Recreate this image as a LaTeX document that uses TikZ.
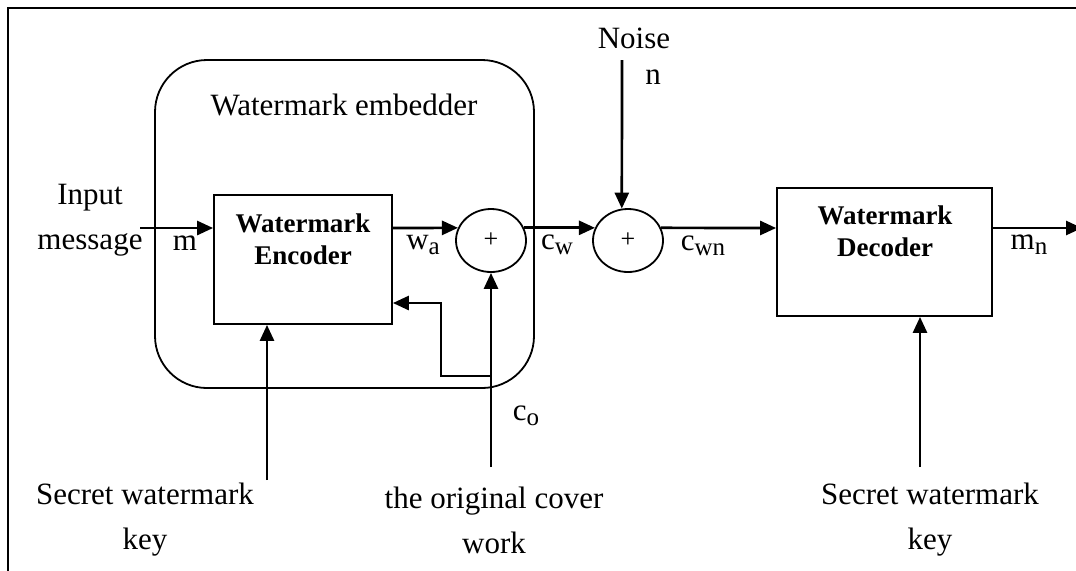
\documentclass[tikz,border=0pt]{standalone}
\usepackage{fontspec}
\setmainfont{Liberation Serif}
\usetikzlibrary{arrows.meta,shapes.geometric}
\newcommand{\lowidx}[1]{\raisebox{-0.35ex}{\fontsize{12.5}{13}\selectfont #1}}
\tikzstyle{blk}=[rectangle,draw=black,line width=0.9pt,inner sep=0pt]
\tikzstyle{adder}=[ellipse,draw=black,line width=0.9pt,inner sep=0pt,minimum width=35pt,minimum height=31.5pt,font=\fontsize{13}{13}\selectfont]
\tikzstyle{lbl}=[inner sep=0pt,align=center,font=\fontsize{15.5}{22.5}\selectfont]
\tikzstyle{btxt}=[inner sep=0pt,align=center,font=\fontsize{13.5}{16}\selectfont\bfseries]
\tikzstyle{sig}=[-{Triangle[length=8pt,width=7pt]},line width=1.35pt]

\begin{document}
\begin{tikzpicture}[x=0.5pt,y=-0.5pt]
\useasboundingbox (0,0) rectangle (1076,570);
\clip (0,0) rectangle (1076,570);
\draw[line width=1pt] (8,580) -- (8,8) -- (1090,8);
\node[blk,rounded corners=26pt,minimum width=189.5pt,minimum height=164pt] (emb) at (344.5,224) {};
\node[lbl] (embt) at (344,105) {Watermark embedder};
\node[blk,minimum width=89pt,minimum height=64.5pt] (enc) at (303,259.5) {};
\node[btxt] (enct) at (303,239) {Watermark\\Encoder};
\node[blk,minimum width=107.5pt,minimum height=64pt] (dec) at (884.5,252) {};
\node[btxt] (dect) at (885,231) {Watermark\\Decoder};
\node[adder] (add1) at (491,240.5) {+};
\node[adder] (add2) at (628,240.5) {+};
\coordinate (in) at (140,228);
\coordinate (out) at (1082,228);
\coordinate (nz) at (622,60);
\coordinate (k1) at (267,480);
\coordinate (k2) at (920,467);
\coordinate (co) at (491,467);
\coordinate (fbc) at (491,376);
\coordinate (fb) at (441,303);
\node[lbl] (inp) at (90,220) {Input\\message};
\node[lbl] (m) at (185,243) {m};
\node[lbl] (wa) at (423,245) {w\lowidx{a}};
\node[lbl] (cw) at (557,245) {c\lowidx{w}};
\node[lbl] (noise) at (634,38) {Noise};
\node[lbl] (n) at (653,77) {n};
\node[lbl] (cwn) at (703,246) {c\lowidx{wn}};
\node[lbl] (mn) at (1029,245) {m\lowidx{n}};
\node[lbl] (cot) at (526,416) {c\lowidx{o}};
\node[lbl] (key1) at (145,520) {Secret watermark\\key};
\node[lbl] (cover) at (494,520) {the original cover\\work};
\node[lbl] (key2) at (930,520) {Secret watermark\\key};
\draw[sig] (in) -- (enc.west |- in);
\draw[sig] (enc.east |- in) -- (add1.159);
\draw[sig] (add1.21) -- (add2.159);
\draw[sig] (add2.21) -- (dec.west |- in);
\draw[sig] (dec.east |- in) -- (out);
\draw[sig] (nz) -- (add2.101);
\draw[sig] (co) -- (add1.south);
\draw[sig] (fbc) -| (fb) -- (enc.east |- fb);
\draw[sig] (k1) -- (k1 |- enc.south);
\draw[sig] (k2) -- (k2 |- dec.south);
\end{tikzpicture}
\end{document}
